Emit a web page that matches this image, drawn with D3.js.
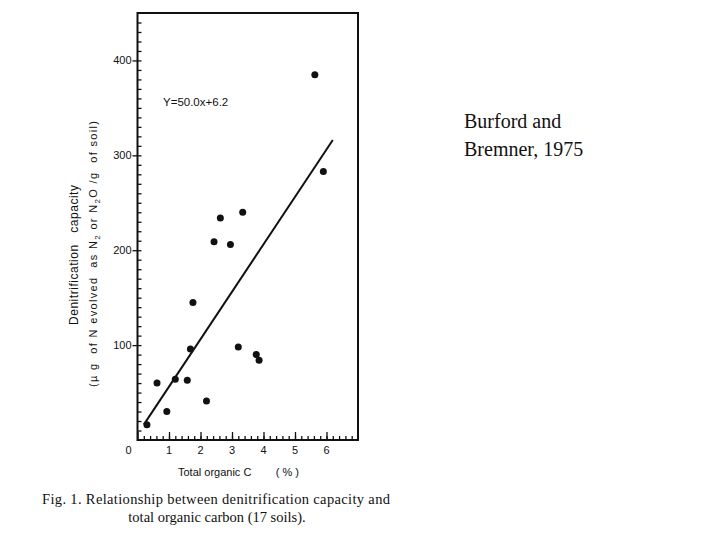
<!DOCTYPE html>
<html>
<head>
  <title>Denitrification capacity vs total organic C</title>
<style>

body {
  margin: 0;
  background: white;
}

text {
  fill: #111;
}

</style>
</head>
<body>
<svg width="720" height="540"></svg>
<script src="https://d3js.org/d3.v7.min.js"></script>
<script>

// -------------------------------------------------------------------------
// DATA (17 soils)
// -------------------------------------------------------------------------
var organicC = [0.30, 0.62, 0.93, 1.20, 1.58, 1.68, 1.76, 2.19, 2.43, 2.63,
                2.95, 3.20, 3.34, 3.77, 3.86, 5.63, 5.90];
var capacity = [16, 60, 30, 64, 63, 96, 145, 41, 209, 234,
                206, 98, 240, 90, 84, 385, 283];

var fitSlope = 50.0,
    fitIntercept = 6.2,
    fitRange = [0.2, 6.2];

var xTicks = [0, 1, 2, 3, 4, 5, 6],
    yTicks = [100, 200, 300, 400];

// -------------------------------------------------------------------------
// SETUP
// -------------------------------------------------------------------------
var svg = d3.select("svg");

var x = d3.scaleLinear().domain([0, 7]).range([137.5, 358]),
    y = d3.scaleLinear().domain([0, 450]).range([440, 13]);

var sans = "'Liberation Sans', sans-serif",
    serif = "'Liberation Serif', 'Times New Roman', serif";

// frame
svg.append("rect")
    .attr("x", x(0))
    .attr("y", y(450))
    .attr("width", x(7) - x(0))
    .attr("height", y(0) - y(450))
    .attr("fill", "none")
    .attr("stroke", "#111")
    .attr("stroke-width", 2);

// -------------------------------------------------------------------------
// AXES
// -------------------------------------------------------------------------
svg.append("g")
    .attr("transform", "translate(0," + y(0) + ")")
    .call(d3.axisTop(x).tickValues(d3.range(0.2, 7, 0.2)).tickSize(4).tickFormat(""));

svg.append("g")
    .attr("transform", "translate(0," + y(0) + ")")
    .call(d3.axisTop(x).tickValues(xTicks).tickSize(8).tickFormat(""));

svg.append("g")
    .selectAll("text")
    .data(xTicks)
  .enter().append("text")
    .attr("x", function(d) { return d === 0 ? x(d) - 9 : x(d); })
    .attr("y", 454)
    .attr("text-anchor", "middle")
    .attr("font-family", sans)
    .attr("font-size", 11)
    .text(function(d) { return d; });

svg.append("g")
    .attr("transform", "translate(" + x(0) + ",0)")
    .call(d3.axisRight(y).tickValues(d3.range(10, 450, 10)).tickSize(4).tickFormat(""));

var yAxis = svg.append("g")
    .attr("transform", "translate(" + x(0) + ",0)")
    .call(d3.axisLeft(y).tickValues(yTicks).tickSize(5).tickPadding(1));

svg.selectAll(".domain").remove();
svg.selectAll(".tick line").attr("stroke", "#111").attr("stroke-width", 1.3);
yAxis.selectAll("text")
    .attr("font-family", sans)
    .attr("font-size", 11)
    .attr("fill", "#111");

// axis titles
svg.append("text")
    .attr("transform", "translate(78,255) rotate(-90)")
    .attr("text-anchor", "middle")
    .attr("font-family", sans)
    .attr("font-size", 12)
    .attr("textLength", 140)
    .attr("lengthAdjust", "spacing")
    .attr("xml:space", "preserve")
    .text("Denitrification   capacity");

svg.append("text")
    .attr("transform", "translate(97,254) rotate(-90)")
    .attr("text-anchor", "middle")
    .attr("font-family", sans)
    .attr("font-size", 11)
    .attr("textLength", 266)
    .attr("lengthAdjust", "spacing")
    .attr("xml:space", "preserve")
    .html("(\u00b5 g  of N evolved  as N<tspan font-size='8' dy='3'>2</tspan><tspan dy='-3'> or N</tspan><tspan font-size='8' dy='3'>2</tspan><tspan dy='-3'>O /g  of soil)</tspan>");

svg.append("text")
    .attr("x", 178)
    .attr("y", 476)
    .attr("font-family", sans)
    .attr("font-size", 11)
    .attr("xml:space", "preserve")
    .style("white-space", "pre")
    .text("Total organic C        ( % )");

// -------------------------------------------------------------------------
// MARKS
// -------------------------------------------------------------------------
svg.append("line")
    .attr("x1", x(fitRange[0]))
    .attr("y1", y(fitSlope * fitRange[0] + fitIntercept))
    .attr("x2", x(fitRange[1]))
    .attr("y2", y(fitSlope * fitRange[1] + fitIntercept))
    .attr("stroke", "#111")
    .attr("stroke-width", 2);

svg.append("g")
    .selectAll("circle")
    .data(organicC)
  .enter().append("circle")
    .attr("cx", function(d) { return x(d); })
    .attr("cy", function(d, i) { return y(capacity[i]); })
    .attr("r", 3.5)
    .attr("fill", "#111");

svg.append("text")
    .attr("x", 163)
    .attr("y", 106)
    .attr("font-family", sans)
    .attr("font-size", 11.5)
    .text("Y=50.0x+6.2");

// -------------------------------------------------------------------------
// CAPTION AND SOURCE
// -------------------------------------------------------------------------
svg.append("text")
    .attr("x", 42)
    .attr("y", 504)
    .attr("font-family", serif)
    .attr("font-size", 14.5)
    .attr("textLength", 348)
    .text("Fig. 1. Relationship between denitrification capacity and");

svg.append("text")
    .attr("x", 217)
    .attr("y", 522)
    .attr("text-anchor", "middle")
    .attr("font-family", serif)
    .attr("font-size", 14.5)
    .text("total organic carbon (17 soils).");

svg.append("text")
    .attr("x", 464)
    .attr("y", 128)
    .attr("font-family", serif)
    .attr("font-size", 20)
    .text("Burford and");

svg.append("text")
    .attr("x", 464)
    .attr("y", 156)
    .attr("font-family", serif)
    .attr("font-size", 20)
    .text("Bremner, 1975");

</script>
</body>
</html>
